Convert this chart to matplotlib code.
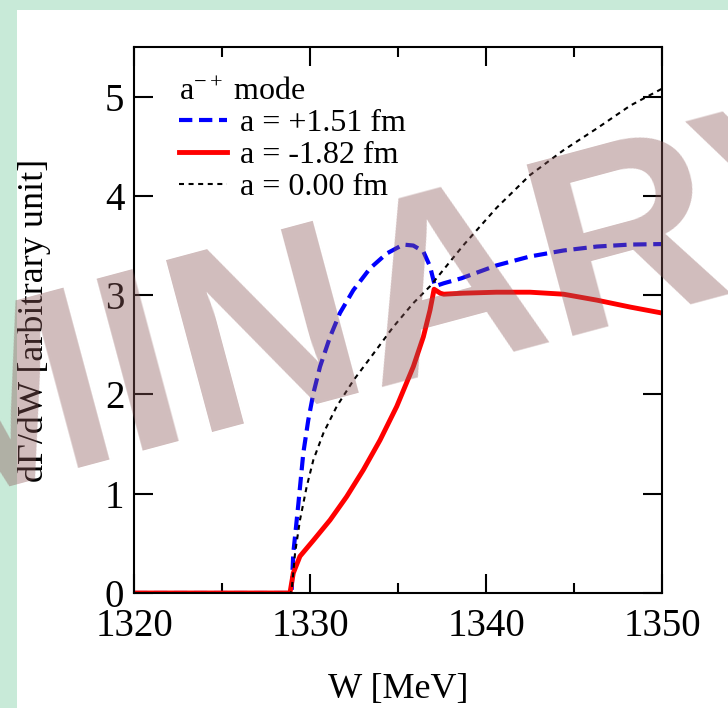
import matplotlib
matplotlib.use("Agg")
import matplotlib.pyplot as plt
from matplotlib.patches import Rectangle
from matplotlib.ticker import MultipleLocator

plt.rcParams['font.family'] = ['Liberation Serif', 'DejaVu Serif']
plt.rcParams['mathtext.fontset'] = 'custom'
plt.rcParams['mathtext.rm'] = 'Liberation Serif'
plt.rcParams['mathtext.it'] = 'Liberation Serif:italic'

# ---- data ----
w_blue = [1320.0, 1328.9, 1328.96, 1329.05, 1329.15, 1329.34, 1329.62, 1329.9, 1330.19,
          1330.57, 1331.14, 1331.7, 1332.46, 1333.41, 1334.36, 1335.3, 1335.87,
          1336.44, 1336.82, 1337.1, 1337.6, 1338.6, 1340.6, 1342.5, 1344.4,
          1346.3, 1348.2, 1350.0]
v_blue = [0.0, 0.0, 0.03, 0.40, 0.57, 0.90, 1.41, 1.74, 2.01,
          2.28, 2.58, 2.82, 3.05, 3.27, 3.42, 3.51, 3.50,
          3.44, 3.29, 3.09, 3.12, 3.17, 3.30, 3.39, 3.45,
          3.49, 3.51, 3.515]

w_red = [1320.0, 1328.86, 1329.05, 1329.43, 1330.19, 1331.14, 1332.08, 1333.03,
         1333.98, 1334.93, 1335.87, 1336.44, 1336.82, 1337.05, 1337.4, 1337.6,
         1338.7, 1340.6, 1342.5, 1344.4, 1346.3, 1348.2, 1350.0]
v_red = [0.0, 0.0, 0.20, 0.37, 0.53, 0.735, 0.97, 1.24,
         1.54, 1.88, 2.28, 2.58, 2.85, 3.06, 3.02, 3.01,
         3.02, 3.03, 3.03, 3.01, 2.95, 2.88, 2.82]

w_black = [1320.0, 1328.9, 1328.96, 1329.15, 1329.43, 1329.81, 1330.19, 1330.76,
           1331.52, 1332.46, 1333.6, 1334.73, 1335.87, 1336.82, 1338.7, 1340.6,
           1342.5, 1344.4, 1346.3, 1348.2, 1350.0]
v_black = [0.0, 0.0, 0.03, 0.40, 0.735, 1.07, 1.34, 1.61,
           1.88, 2.14, 2.41, 2.68, 2.92, 3.09, 3.50, 3.88,
           4.21, 4.46, 4.68, 4.91, 5.08]

labels = ['a = +1.51 fm', 'a = -1.82 fm', 'a = 0.00 fm']
legend_title = 'a$^{-+}$ mode'
x_ticks = [1320, 1330, 1340, 1350]
y_ticks = [0, 1, 2, 3, 4, 5]

fig = plt.figure(figsize=(7.28, 7.08), dpi=100)
fig.patch.set_facecolor('white')

# green page border
green = '#c8ead8'
fig.patches.append(Rectangle((0, 0), 17/728, 1, transform=fig.transFigure,
                             facecolor=green, edgecolor='none', zorder=0))
fig.patches.append(Rectangle((0, 1 - 9.5/708), 1, 9.5/708, transform=fig.transFigure,
                             facecolor=green, edgecolor='none', zorder=0))

ax = fig.add_axes([134/728, (708-593)/708, (662-134)/728, (593-47)/708])

ax.plot(w_blue, v_blue, color='#0000ff', lw=3.0, dashes=(3.2, 1.6), label=labels[0])
ax.plot(w_red, v_red, color='#ff0000', lw=3.5, label=labels[1])
ax.plot(w_black, v_black, color='black', lw=1.5, dashes=(2.4, 2.2), label=labels[2])

ax.set_xlim(1320, 1350)
ax.set_ylim(0, 5.5)
ax.set_xticks(x_ticks)
ax.set_yticks(y_ticks)
ax.xaxis.set_minor_locator(MultipleLocator(5))
ax.tick_params(which='both', direction='in', top=True, right=True, width=1.5)
ax.tick_params(which='major', length=13.7)
ax.tick_params(which='minor', length=7)
ax.tick_params(axis='x', labelsize=28, pad=11)
ax.tick_params(axis='y', labelsize=28, pad=7)
for s in ax.spines.values():
    s.set_linewidth(1.5)

ax.set_xlabel('W [MeV]', fontsize=26)
ax.xaxis.set_label_coords(0.5, (593-673)/546)
ax.set_ylabel('dΓ/dW [arbitrary unit]', fontsize=26)
ax.yaxis.set_label_coords((51-134)/528, 0.5)

leg = ax.legend(loc='upper left', bbox_to_anchor=(0.086, 0.944), frameon=False,
                fontsize=23, title=legend_title, title_fontsize=23,
                alignment='left', handlelength=1.5, handletextpad=0.4,
                labelspacing=0.08, borderpad=0, borderaxespad=0)

# PRELIMINARY watermark
fig.text(-1.121, 0.008, 'PRELIMINARY', fontsize=186, fontweight='bold',
         family='Liberation Sans', color=(0.55, 0.35, 0.35), alpha=0.4,
         rotation=15, rotation_mode='anchor', ha='left', va='baseline', zorder=10)

fig.savefig('out.png', dpi=100)
